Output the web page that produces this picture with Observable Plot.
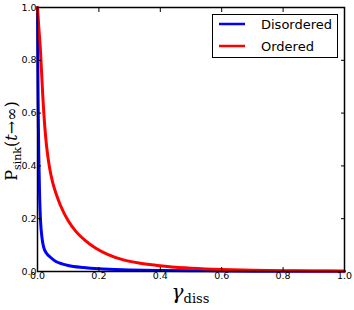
<!DOCTYPE html>
<html><head><meta charset="utf-8">
<script src="https://cdn.jsdelivr.net/npm/d3@7"></script>
<script src="https://cdn.jsdelivr.net/npm/@observablehq/plot@0.6"></script>
<style>body{margin:0;background:#fff} svg{display:block}</style>
</head><body><div id="chart"></div>
<script>
const seriesNames = ["Disordered", "Ordered"];
const seriesColors = ["#0000ff", "#ff0000"];

const disorderedX = [0, 0.001, 0.002, 0.004, 0.007, 0.01, 0.015, 0.02, 0.03, 0.042, 0.06, 0.08, 0.1, 0.15, 0.2, 0.3, 0.4, 0.5, 0.6, 0.8, 1.0];
const disorderedY = [1.0, 0.8, 0.65, 0.45, 0.28, 0.19, 0.125, 0.092, 0.068, 0.054, 0.038, 0.029, 0.023, 0.015, 0.01, 0.006, 0.004, 0.003, 0.002, 0.001, 0.0006];

const orderedX = [0, 0.004, 0.01, 0.017, 0.024, 0.03, 0.039, 0.05, 0.062, 0.075, 0.1, 0.125, 0.156, 0.19, 0.23, 0.28, 0.33, 0.39, 0.45, 0.5, 0.6, 0.7, 0.8, 0.9, 1.0];
const orderedY = [1.0, 0.93, 0.83, 0.67, 0.545, 0.47, 0.395, 0.335, 0.29, 0.25, 0.192, 0.152, 0.117, 0.088, 0.064, 0.044, 0.032, 0.023, 0.016, 0.0125, 0.0075, 0.0045, 0.003, 0.002, 0.0012];

const xTicks = [0, 0.2, 0.4, 0.6, 0.8, 1.0];
const yTicks = [0, 0.2, 0.4, 0.6, 0.8, 1.0];
const xTickLabels = ["0.0", "0.2", "0.4", "0.6", "0.8", "1.0"];
const yTickLabels = ["0.0", "0.2", "0.4", "0.6", "0.8", "1.0"];

const data = [
  ...disorderedX.map((x, i) => ({series: "Disordered", x, y: disorderedY[i]})),
  ...orderedX.map((x, i) => ({series: "Ordered", x, y: orderedY[i]}))
];

const xLab = d => xTickLabels[xTicks.indexOf(d)];
const yLab = d => yTickLabels[yTicks.indexOf(d)];

const plot = Plot.plot({
  width: 354, height: 310,
  marginLeft: 37, marginRight: 10, marginTop: 7, marginBottom: 39,
  style: {fontFamily: "DejaVu Sans", fontSize: "9.5px", color: "black", background: "white"},
  x: {domain: [0, 1]},
  y: {domain: [0, 1]},
  color: {domain: seriesNames, range: seriesColors},
  marks: [
    Plot.line(data, {x: "x", y: "y", stroke: "series", strokeWidth: 3, curve: "monotone-x"}),
    Plot.axisX({ticks: xTicks, tickSize: -4, tickFormat: () => "", label: null}),
    Plot.axisX({anchor: "top", ticks: xTicks, tickSize: -4, tickFormat: () => "", label: null}),
    Plot.axisY({ticks: yTicks, tickSize: -4, tickFormat: () => "", label: null}),
    Plot.axisY({anchor: "right", ticks: yTicks, tickSize: -4, tickFormat: () => "", label: null}),
    Plot.axisX({ticks: xTicks, tickSize: 0, tickPadding: 1, tickFormat: xLab, label: null, fill: "black"}),
    Plot.axisY({ticks: yTicks, tickSize: 0, tickPadding: 1, tickFormat: yLab, label: null, fill: "black"}),
    Plot.frame({stroke: "black", strokeWidth: 1.5})
  ]
});

document.getElementById("chart").appendChild(plot);
const svg = d3.select(plot);

// y label
const yl = svg.append("text")
  .attr("transform", "translate(17,141) rotate(-90)")
  .attr("text-anchor", "middle")
  .attr("font-family", "DejaVu Serif")
  .attr("font-size", 16)
  .attr("fill", "black");
yl.append("tspan").text("P");
yl.append("tspan").attr("font-size", 11).attr("dy", 4).text("sink");
yl.append("tspan").attr("dy", -4).text("(");
yl.append("tspan").attr("font-style", "italic").text("t");
yl.append("tspan").text("→∞)");

// x label
const xl = svg.append("text")
  .attr("x", 190.5).attr("y", 299)
  .attr("text-anchor", "middle")
  .attr("font-family", "DejaVu Serif")
  .attr("fill", "black");
xl.append("tspan").attr("font-size", 20).attr("font-style", "italic").text("γ");
xl.append("tspan").attr("font-size", 13).attr("dy", 4).text("diss");

// legend
const lg = svg.append("g");
lg.append("rect").attr("x", 212.5).attr("y", 14.5).attr("width", 125).attr("height", 43)
  .attr("fill", "white").attr("stroke", "black").attr("stroke-width", 1);
seriesNames.forEach((name, i) => {
  const yy = 24 + i * 22;
  lg.append("line").attr("x1", 219).attr("x2", 245).attr("y1", yy).attr("y2", yy)
    .attr("stroke", seriesColors[i]).attr("stroke-width", 2.5);
  lg.append("text").attr("x", 261).attr("y", yy + 4.5)
    .attr("text-anchor", "start")
    .attr("font-family", "DejaVu Sans").attr("font-size", 13).attr("fill", "black").text(name);
});
</script>
</body></html>
